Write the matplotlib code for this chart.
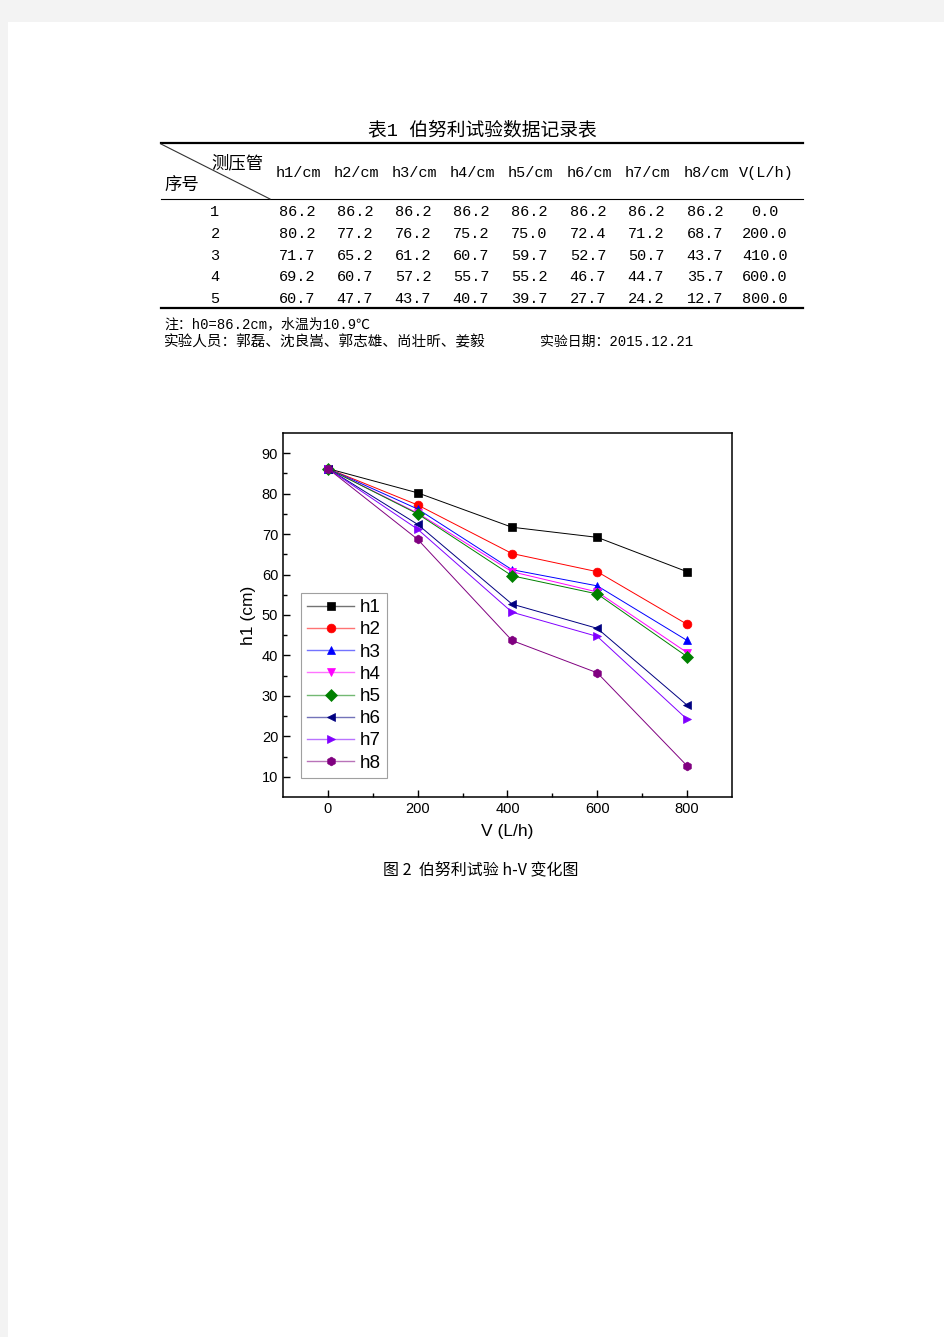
import matplotlib
matplotlib.use("Agg")
import matplotlib.pyplot as plt
from matplotlib.lines import Line2D
from matplotlib.patches import Rectangle
from matplotlib.colors import to_rgb

plt.rcParams['font.family'] = ['Liberation Sans', 'Noto Sans CJK SC', 'DejaVu Sans']

# ---- data ----
row_ids = ["1", "2", "3", "4", "5"]
col_headers = ["h1/cm", "h2/cm", "h3/cm", "h4/cm", "h5/cm", "h6/cm", "h7/cm", "h8/cm", "V(L/h)"]
V = [0.0, 200.0, 410.0, 600.0, 800.0]
h1 = [86.2, 80.2, 71.7, 69.2, 60.7]
h2 = [86.2, 77.2, 65.2, 60.7, 47.7]
h3 = [86.2, 76.2, 61.2, 57.2, 43.7]
h4 = [86.2, 75.2, 60.7, 55.7, 40.7]
h5 = [86.2, 75.0, 59.7, 55.2, 39.7]
h6 = [86.2, 72.4, 52.7, 46.7, 27.7]
h7 = [86.2, 71.2, 50.7, 44.7, 24.2]
h8 = [86.2, 68.7, 43.7, 35.7, 12.7]
series_names = ["h1", "h2", "h3", "h4", "h5", "h6", "h7", "h8"]
series = [h1, h2, h3, h4, h5, h6, h7, h8]
colors = ["#000000", "#ff0000", "#0000ff", "#ff00ff", "#008000", "#000080", "#8000ff", "#800080"]
markers = ["s", "o", "^", "v", "D", "<", ">", "h"]

W, H = 945, 1337
fig = plt.figure(figsize=(W / 100, H / 100), dpi=100, facecolor="#f3f3f3")
fig.add_artist(Rectangle((8 / W, 0), 1, 1 - 22 / H, transform=fig.transFigure,
                         facecolor="white", edgecolor="none", zorder=0))

def fx(x):
    return x / W

def fy(y):
    return 1 - y / H

mono = ['Liberation Mono', 'Noto Sans CJK SC']
cjk = ['Noto Sans CJK SC', 'DejaVu Sans']

# ---- table ----
fig.text(fx(482), fy(130), "表1 伯努利试验数据记录表", family=mono, fontsize=13.5,
         ha="center", va="center")
def hline(y, lw):
    fig.add_artist(Line2D([fx(161), fx(803)], [fy(y), fy(y)], color="black", lw=lw,
                          transform=fig.transFigure))
hline(143, 1.6)
hline(199, 0.8)
hline(308, 1.6)
fig.add_artist(Line2D([fx(161), fx(270)], [fy(144), fy(199)], color="#333333", lw=0.8,
                      transform=fig.transFigure))
fig.text(fx(237), fy(163), "测压管", family=cjk, fontsize=12.5, ha="center", va="center")
fig.text(fx(182), fy(185), "序号", family=cjk, fontsize=12.5, ha="center", va="center")

col_x = [298, 356, 414, 472, 530, 589, 647, 706, 766]
for cx, hd in zip(col_x, col_headers):
    fig.text(fx(cx), fy(173), hd, family=mono, fontsize=11, ha="center", va="center")
row_y = [212, 234, 256, 277, 299]
for i, ry in enumerate(row_y):
    fig.text(fx(215), fy(ry), row_ids[i], family=mono, fontsize=11, ha="center", va="center")
    vals = [s[i] for s in series] + [V[i]]
    for cx, v in zip(col_x, vals):
        fig.text(fx(cx - 1), fy(ry), f"{v:.1f}", family=mono, fontsize=11,
                 ha="center", va="center")

fig.text(fx(164), fy(324), "注：h0=86.2cm，水温为10.9℃", family=mono, fontsize=10,
         ha="left", va="center")
fig.text(fx(164), fy(342), "实验人员：郭磊、沈良嵩、郭志雄、尚壮昕、姜毅", family=mono, fontsize=10.5,
         ha="left", va="center")
fig.text(fx(540), fy(342), "实验日期：2015.12.21", family=mono, fontsize=10,
         ha="left", va="center")

# ---- chart ----
ax = fig.add_axes([fx(283), fy(797), (732 - 283) / W, (797 - 433) / H])
for name, s, c, m in zip(series_names, series, colors, markers):
    ax.plot(V, s, color=c, lw=0.7, marker=m, markersize=6.3, markeredgewidth=0.5,
            markerfacecolor=c, markeredgecolor=c, label=name)
ax.set_xlim(-100, 900)
ax.set_ylim(5, 95)
ax.set_xticks([0, 200, 400, 600, 800])
ax.set_xticks([100, 300, 500, 700], minor=True)
ax.set_yticks([10, 20, 30, 40, 50, 60, 70, 80, 90])
ax.set_yticks([15, 25, 35, 45, 55, 65, 75, 85], minor=True)
ax.tick_params(which="both", direction="in", top=False, right=False, labelsize=10.5,
               width=1.0)
ax.tick_params(which="major", length=5)
ax.tick_params(which="minor", length=3)
for sp in ax.spines.values():
    sp.set_linewidth(1.1)
ax.set_xlabel("V (L/h)", fontsize=12.5, labelpad=6)
ax.set_ylabel("h1 (cm)", fontsize=12.5, labelpad=4)

def lighten(c, f=0.45):
    r, g, b = to_rgb(c)
    return (r + (1 - r) * f, g + (1 - g) * f, b + (1 - b) * f)

handles = [Line2D([], [], color=lighten(c), lw=1.0, marker=m, markersize=6.3,
                  markerfacecolor=c, markeredgecolor=c, markeredgewidth=0.5)
           for c, m in zip(colors, markers)]
leg = ax.legend(handles, series_names, loc="lower left",
                bbox_to_anchor=((301 - 283) / 449, (797 - 778) / 364),
                fontsize=13.5, frameon=True, fancybox=False, edgecolor="#888888",
                handlelength=2.5, handletextpad=0.3, borderpad=0.34, labelspacing=0.27,
                borderaxespad=0)
leg.get_frame().set_linewidth(0.8)

fig.text(fx(481), fy(870), "图 2  伯努利试验 h-V 变化图", family=cjk, fontsize=11.5,
         ha="center", va="center")

fig.savefig("out.png", dpi=100, facecolor=fig.get_facecolor())
